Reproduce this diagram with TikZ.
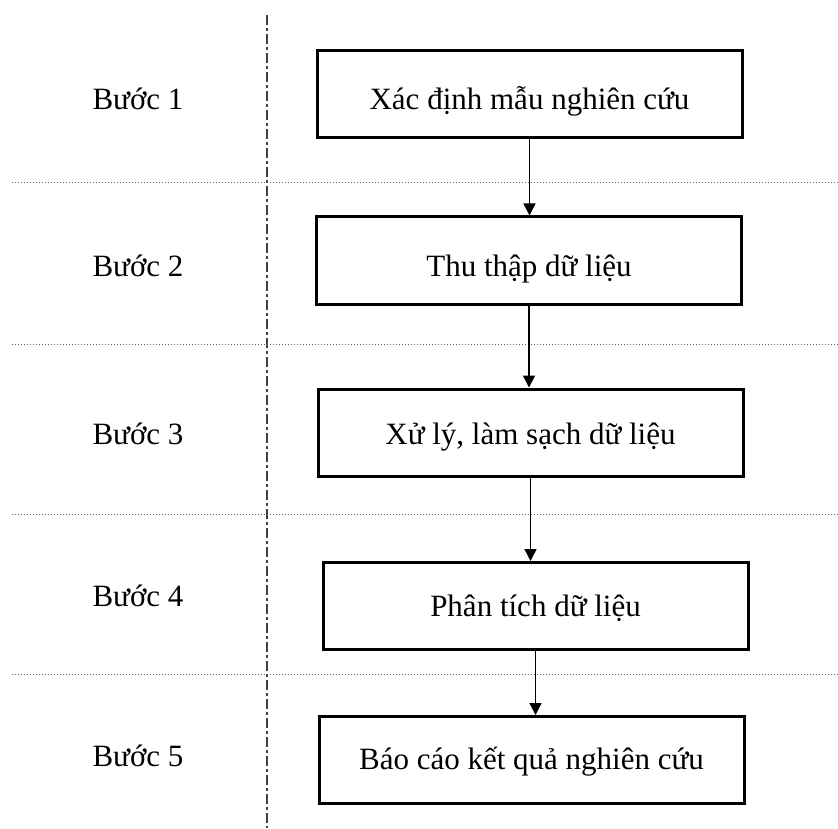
\documentclass[tikz,border=0pt]{standalone}
\usepackage{fontspec}
\setmainfont{Liberation Serif}
\usetikzlibrary{arrows,arrows.meta,positioning}
\tikzstyle{process} = [rectangle, minimum width=212.5pt, minimum height=43.5pt, text centered, draw=black, line width=1.5pt, text depth=0pt, font=\fontsize{15.5}{18}\selectfont]
\tikzstyle{steplabel} = [anchor=base, font=\fontsize{15.5}{18}\selectfont]
\tikzstyle{arrow} = [-{Triangle[length=6pt,width=6pt]}, line width=0.75pt]
\tikzstyle{sepline} = [densely dotted, gray!80!black, line width=0.5pt]
\tikzstyle{axis} = [dash pattern=on 5pt off 1.5pt on 1.5pt off 1.5pt, black!75, line width=0.7pt]

\begin{document}
\begin{tikzpicture}[x=0.5pt,y=-0.5pt]
	\useasboundingbox (0,0) rectangle (838,828);
	
	\node[steplabel] (s1) at (138,110) {Bước 1};
	\node[steplabel] (s2) at (138,277) {Bước 2};
	\node[steplabel] (s3) at (138,444) {Bước 3};
	\node[steplabel] (s4) at (138,606) {Bước 4};
	\node[steplabel] (s5) at (138,766) {Bước 5};
	
	\node[process, text height=15.5pt] (b1) at (529.5,94.5) {Xác định mẫu nghiên cứu};
	\node[process, text height=16.5pt] (b2) at (529,260.5) {Thu thập dữ liệu};
	\node[process, text height=12pt] (b3) at (530.5,432.5) {Xử lý, làm sạch dữ liệu};
	\node[process, text height=10.5pt] (b4) at (535.5,606) {Phân tích dữ liệu};
	\node[process, text height=9pt] (b5) at (531.5,760) {Báo cáo kết quả nghiên cứu};
	
	%separators
	\draw[axis] (267,15) -- (267,828);
	\foreach \y in {183,344,514,674}
		\draw[sepline] (12,\y) -- (838,\y);
	
	%arrow
	\draw[arrow] (b1.south) -- (b1.south |- b2.north);
	\draw[arrow] (b2.south) -- (b2.south |- b3.north);
	\draw[arrow] (b3.south) -- (b3.south |- b4.north);
	\draw[arrow] (b4.south) -- (b4.south |- b5.north);
	
\end{tikzpicture}
\end{document}
